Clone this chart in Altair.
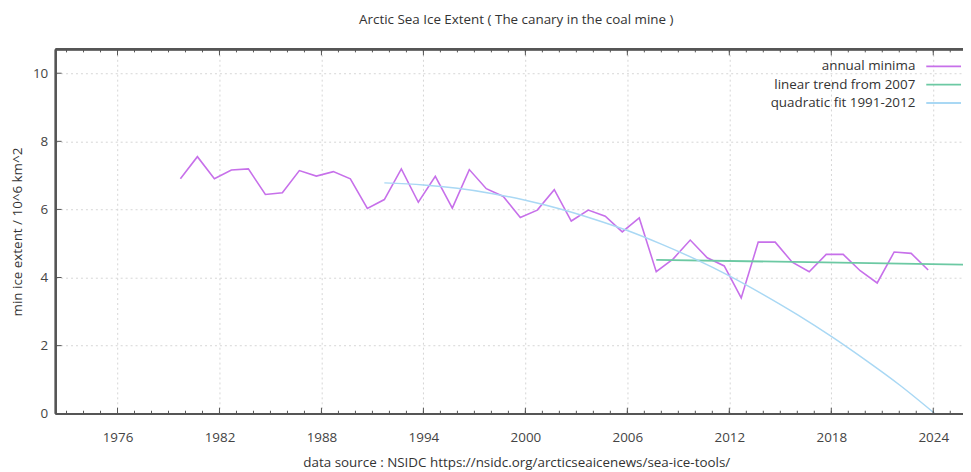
import altair as alt
import pandas as pd

# ---------------- data ----------------
years = list(range(1979, 2024))
minima = [6.90, 7.55, 6.90, 7.16, 7.19, 6.44, 6.49, 7.14, 6.98, 7.11,
          6.90, 6.03, 6.29, 7.19, 6.21, 6.97, 6.04, 7.17, 6.61, 6.38,
          5.76, 5.98, 6.58, 5.66, 5.98, 5.80, 5.34, 5.75, 4.17, 4.55,
          5.10, 4.58, 4.34, 3.40, 5.04, 5.04, 4.45, 4.17, 4.68, 4.68,
          4.20, 3.84, 4.75, 4.71, 4.22]
min_date_frac = 0.7  # minima fall in mid-September

trend_years = [2007.7, 2025.75]
trend_vals = [4.52, 4.38]

quad_years = [1991.7, 1994, 1996, 1998, 2000, 2002, 2004, 2006, 2008,
              2010, 2012, 2014, 2016, 2018, 2020, 2022, 2024.1]
quad_vals = [6.78, 6.72, 6.62, 6.47, 6.27, 6.02, 5.72, 5.38, 4.98,
             4.54, 4.05, 3.50, 2.91, 2.27, 1.58, 0.85, 0.0]

series_names = ["annual minima", "linear trend from 2007", "quadratic fit 1991-2012"]
series_colors = ["#c770ea", "#6cc9a3", "#a9d8f4"]

major_years = [1976, 1982, 1988, 1994, 2000, 2006, 2012, 2018, 2024]
minor_years = list(range(1973, 2026))
y_ticks = [0, 2, 4, 6, 8, 10]

title_text = "Arctic Sea Ice Extent ( The canary in the coal mine )"
x_title = "data source : NSIDC https://nsidc.org/arcticseaicenews/sea-ice-tools/"
y_title = "min ice extent / 10^6 km^2"

# ---------------- tables ----------------
df_min = pd.DataFrame({"x": [y + min_date_frac for y in years], "v": minima,
                       "series": series_names[0]})
df_trend = pd.DataFrame({"x": trend_years, "v": trend_vals, "series": series_names[1]})
df_quad = pd.DataFrame({"x": quad_years, "v": quad_vals, "series": series_names[2]})
df_major = pd.DataFrame({"x": major_years})
df_minor = pd.DataFrame({"x": minor_years})
df_yt = pd.DataFrame({"v": y_ticks})
df_leg = pd.DataFrame({"series": series_names})

W, H = 914, 367
FONT = "Open Sans"
FS = 13.5
INK = "#555"

x_scale = alt.Scale(domain=[1972.36, 2025.75], nice=False, zero=False)
y_scale = alt.Scale(domain=[0, 10.7], nice=False, zero=False)

x_axis = alt.Axis(values=major_years, format="d", grid=True, gridDash=[2, 3],
                  gridColor="#d6d6d6", ticks=False, tickSize=0, domain=False,
                  labelPadding=17, labelFontSize=FS, labelColor="#444",
                  labelFont=FONT, title=x_title, titleFont=FONT, titleFontSize=FS,
                  titleFontWeight="normal", titleColor="#333", titlePadding=12,
                  titleX=W / 2 + 7)
y_axis = alt.Axis(values=y_ticks, grid=True, gridDash=[2, 3], gridColor="#d6d6d6",
                  ticks=False, tickSize=0, domain=False, labelPadding=8,
                  labelFontSize=FS, labelColor="#444", labelFont=FONT,
                  title=y_title, titleFont=FONT, titleFontSize=FS,
                  titleFontWeight="normal", titleColor="#333", titlePadding=8)

X = alt.X("x:Q", scale=x_scale, axis=x_axis)
Y = alt.Y("v:Q", scale=y_scale, axis=y_axis)
C = alt.Color("series:N", scale=alt.Scale(domain=series_names, range=series_colors),
              legend=None)

line_min = alt.Chart(df_min).mark_line(strokeWidth=1.6).encode(x=X, y=Y, color=C)
line_trend = alt.Chart(df_trend).mark_line(strokeWidth=1.8).encode(x=X, y=Y, color=C)
line_quad = alt.Chart(df_quad).mark_line(strokeWidth=1.5, interpolate="monotone").encode(
    x=X, y=Y, color=C)

# plot frame (left, top, bottom) and inward ticks, gnuplot style
frame_bottom = alt.Chart(df_yt).mark_rule(color=INK, strokeWidth=1.6).encode(
    x=alt.value(0), x2=alt.value(W + 5), y=alt.value(H))
frame_top = alt.Chart(df_yt).mark_rule(color=INK, strokeWidth=1.6).encode(
    x=alt.value(0), x2=alt.value(W + 5), y=alt.value(0))
frame_left = alt.Chart(df_yt).mark_rule(color=INK, strokeWidth=1.6).encode(
    x=alt.value(0), y=alt.value(0), y2=alt.value(H))
bot_minor = alt.Chart(df_minor).mark_rule(color=INK, strokeWidth=1).encode(
    x=X, y=alt.value(H), y2=alt.value(H - 3))
bot_major = alt.Chart(df_major).mark_rule(color=INK, strokeWidth=1).encode(
    x=X, y=alt.value(H), y2=alt.value(H - 6))
top_minor = alt.Chart(df_minor).mark_rule(color=INK, strokeWidth=1).encode(
    x=X, y=alt.value(0), y2=alt.value(3))
top_major = alt.Chart(df_major).mark_rule(color=INK, strokeWidth=1).encode(
    x=X, y=alt.value(0), y2=alt.value(6))
left_major = alt.Chart(df_yt).mark_rule(color=INK, strokeWidth=1).encode(
    y=Y, x=alt.value(0), x2=alt.value(6))

main = alt.layer(
    line_min, line_trend, line_quad,
    bot_minor, bot_major, top_minor, top_major, left_major,
    frame_bottom, frame_top, frame_left
)

# key (top right, gnuplot style: label then line sample)
LY = alt.Y("series:N", axis=None,
           scale=alt.Scale(type="point", domain=series_names, range=[17, 54], padding=0))
key_text = alt.Chart(df_leg).mark_text(align="right", baseline="middle", fontSize=FS,
                                       font=FONT, color="#333").encode(
    text="series:N", x=alt.value(866), y=LY)
key_line = alt.Chart(df_leg).mark_rule(strokeWidth=1.8).encode(
    x=alt.value(877), x2=alt.value(912), y=LY, color=C)

chart = alt.layer(main, key_line, key_text).resolve_scale(
    y="independent"
).properties(
    width=W, height=H,
    title=alt.TitleParams(title_text, fontSize=FS, fontWeight="normal", color="#333",
                          font=FONT, anchor="middle", offset=22, dx=7),
    autosize=alt.AutoSizeParams(type="none"),
    padding={"left": 48, "top": 40, "right": 0, "bottom": 57},
).configure_view(
    strokeWidth=0
)

chart.save("out.html", embed_options={"renderer": "svg", "actions": False})
